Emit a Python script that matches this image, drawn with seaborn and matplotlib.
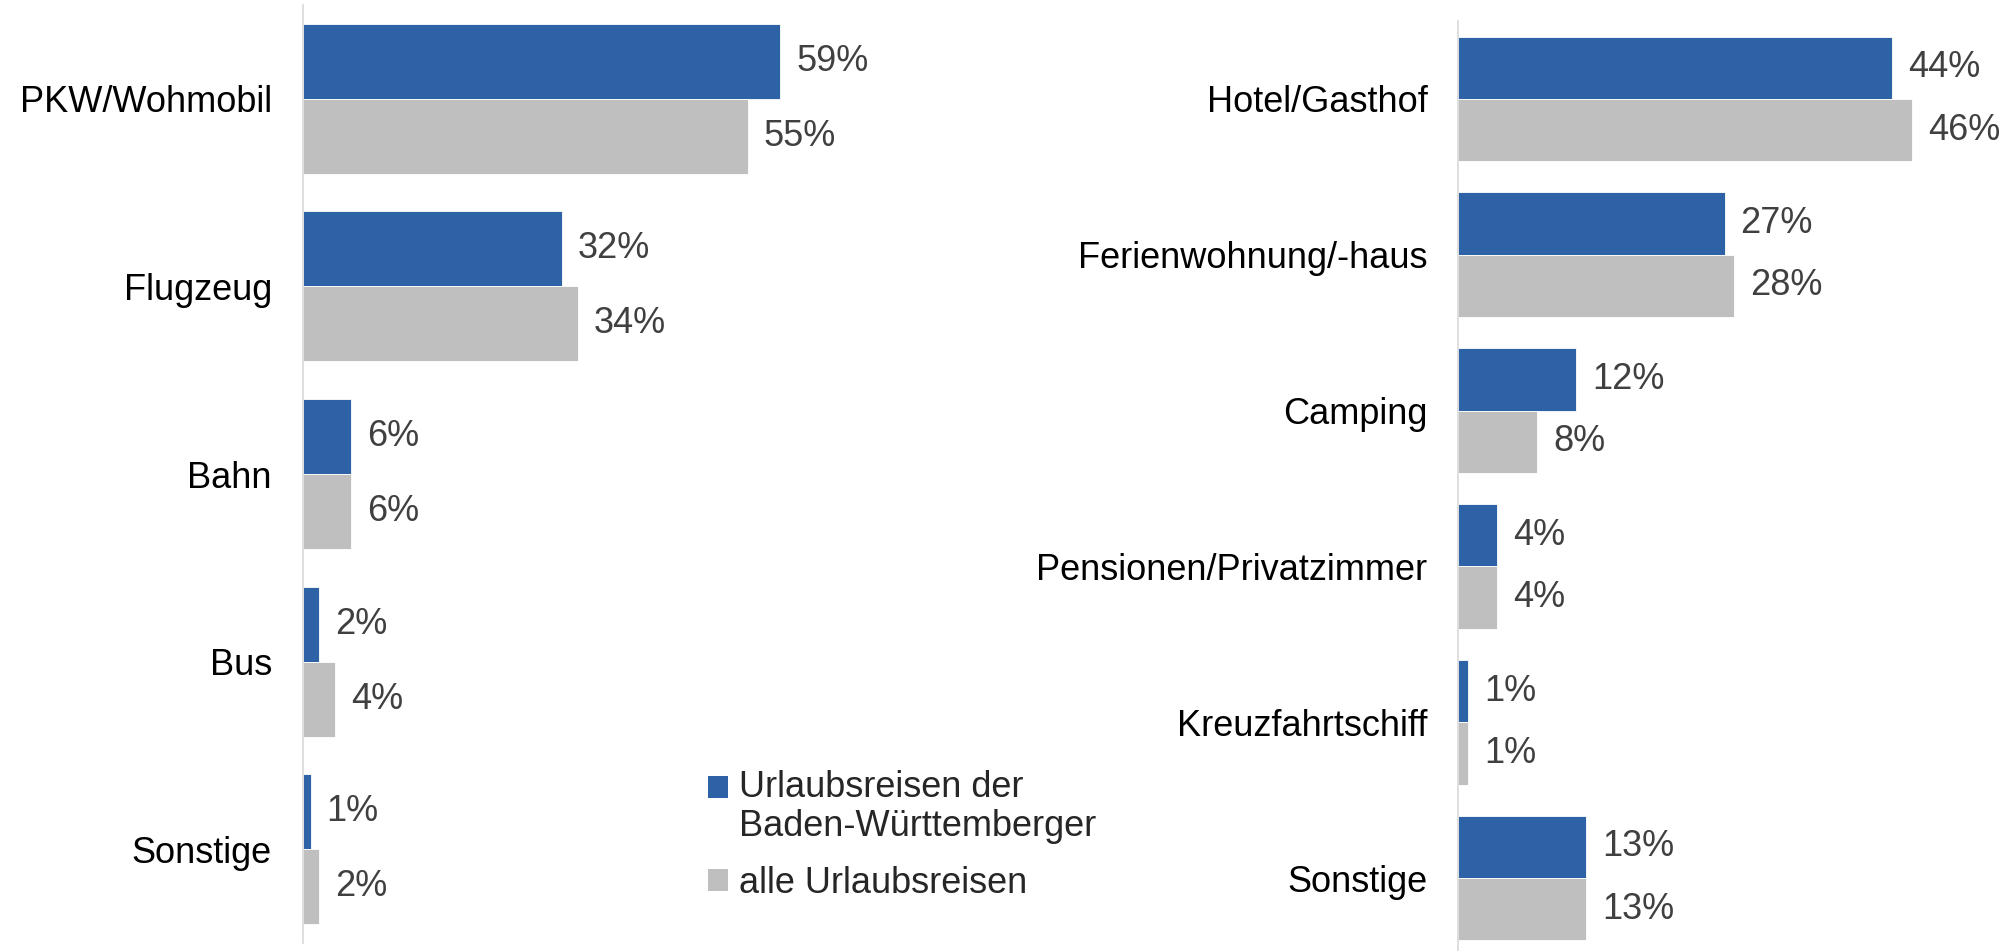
import pandas as pd
import seaborn as sns
import matplotlib.pyplot as plt
from matplotlib.patches import Patch, Rectangle
from matplotlib.legend_handler import HandlerPatch

# data
transport = ["PKW/Wohmobil", "Flugzeug", "Bahn", "Bus", "Sonstige"]
transport_bw = [59, 32, 6, 2, 1]
transport_all = [55, 34, 6, 4, 2]

lodging = ["Hotel/Gasthof", "Ferienwohnung/-haus", "Camping",
           "Pensionen/Privatzimmer", "Kreuzfahrtschiff", "Sonstige"]
lodging_bw = [44, 27, 12, 4, 1, 13]
lodging_all = [46, 28, 8, 4, 1, 13]

series = ["Urlaubsreisen der\nBaden-Württemberger", "alle Urlaubsreisen"]
colors = ["#2E62A6", "#BFBFBF"]

sns.set_theme(style="white")
plt.rcParams["font.family"] = ["Liberation Sans", "DejaVu Sans"]

W, H = 2012, 951
fig = plt.figure(figsize=(W / 100, H / 100), dpi=100)


def long_frame(cats, a, b):
    return pd.DataFrame({
        "cat": cats * 2,
        "val": a + b,
        "series": [series[0]] * len(cats) + [series[1]] * len(cats),
    })


def draw(ax, cats, a, b, xmax):
    df = long_frame(cats, a, b)
    sns.barplot(data=df, y="cat", x="val", hue="series", orient="h",
                palette=colors, saturation=1, width=0.8, ax=ax,
                edgecolor="white", linewidth=0.6, legend=False)
    for cont in ax.containers:
        ax.bar_label(cont, labels=[f"{v:g}%" for v in cont.datavalues],
                     padding=11.5, fontsize=26, color="#404040")
    ax.set_xlim(0, xmax)
    ax.set_ylim(len(cats) - 0.5, -0.5)
    ax.set_xlabel("")
    ax.set_ylabel("")
    ax.set_xticks([])
    ax.tick_params(axis="y", length=0, pad=22, labelsize=26, labelcolor="#000000")
    for s in ["top", "right", "bottom"]:
        ax.spines[s].set_visible(False)
    ax.spines["left"].set_color("#D9D9D9")
    ax.spines["left"].set_linewidth(1.2)
    ax.patch.set_alpha(0)


ax1 = fig.add_axes([302.5 / W, 1 - 943 / H, 648 / W, 938 / H])
draw(ax1, transport, transport_bw, transport_all, 80)

ax2 = fig.add_axes([1458 / W, 1 - 956 / H, 543 / W, 935 / H])
draw(ax2, lodging, lodging_bw, lodging_all, 55)


# square of the two-line entry sits next to its first line
def top_square(legend, orig_handle, xdescent, ydescent, width, height, fontsize):
    return Rectangle((-xdescent, -ydescent + 0.575 * fontsize), width, height)


handles = [Patch(facecolor=c, edgecolor="none") for c in colors]
leg = fig.legend(handles, series, loc="upper left",
                 bbox_to_anchor=(690 / W, 1 - 752 / H), frameon=False,
                 fontsize=26, handlelength=0.55, handleheight=0.55,
                 handletextpad=0.3, labelspacing=0.6, borderpad=0,
                 handler_map={handles[0]: HandlerPatch(patch_func=top_square)})
for t in leg.get_texts():
    t.set_linespacing(1.15)

fig.savefig("out.png", dpi=100)
